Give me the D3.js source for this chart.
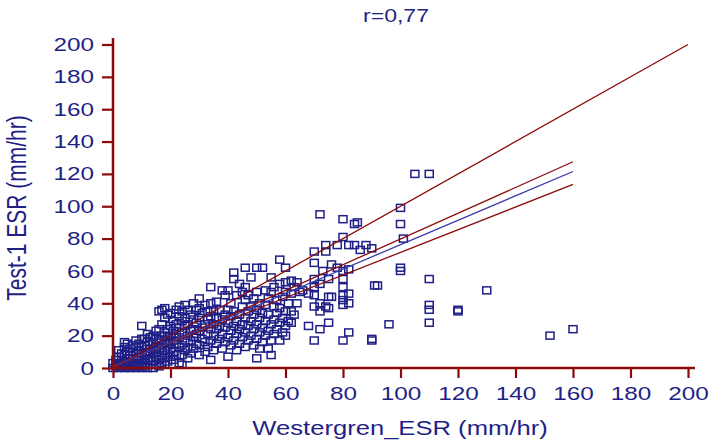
<!DOCTYPE html>
<html>
<head>
<meta charset="utf-8">
<script src="https://cdn.jsdelivr.net/npm/d3@7"></script>
<style>
  body { margin: 0; background: #fff; }
  svg { display: block; font-family: "Liberation Sans", Arial, sans-serif; }
</style>
</head>
<body>
<div id="chart"></div>
<script>
// Westergren_ESR vs Test-1 ESR (mm/hr)
const esrPairs = [
  [0,0],[0,3],[1,1],[1,5],[1,2],[2,0],[2,3],[2,7],[2,11],[3,1],[3,5],[3,9],[3,2],[4,0],[4,4],
  [4,8],[4,13],[4,16],[5,1],[5,6],[5,10],[5,3],[5,15],[6,0],[6,4],[6,8],[6,12],[6,2],[7,1],[7,6],
  [7,10],[7,14],[7,3],[8,0],[8,5],[8,9],[8,13],[8,17],[8,2],[9,3],[9,7],[9,11],[9,15],[9,1],
  [10,0],[10,5],[10,9],[10,13],[10,18],[10,26],[10,2],
  [11,3],[11,8],[11,14],[11,18],[11,1],[12,0],[12,5],[12,10],[12,16],[12,21],[13,2],[13,6],[13,12],
  [13,19],[13,9],[14,0],[14,4],[14,11],[14,15],[14,20],[15,2],[15,7],[15,13],[15,18],[15,23],
  [15,10],[16,1],[16,5],[16,12],[16,17],[16,24],[16,35],[17,3],[17,8],[17,14],[17,20],[17,27],
  [17,36],[18,6],[18,11],[18,17],[18,22],[18,31],[18,37],[18,2],[19,4],[19,9],[19,15],[19,24],
  [19,33],[19,19],[20,7],[20,12],[20,20],[20,26],[20,34],[20,16],
  [21,5],[21,10],[21,17],[21,23],[21,29],[22,8],[22,15],[22,21],[22,27],[22,36],[23,3],[23,13],
  [23,19],[23,25],[23,32],[23,38],[24,2],[24,8],[24,14],[24,22],[24,29],[24,35],[25,11],[25,17],
  [25,26],[25,31],[25,39],[26,6],[26,12],[26,20],[26,27],[26,36],[27,9],[27,17],[27,23],[27,33],
  [28,12],[28,19],[28,24],[28,30],[28,40],[29,15],[29,21],[29,28],[29,36],[30,8],[30,14],[30,23],
  [30,31],[30,37],[30,43],[31,18],[31,25],[31,34],[32,10],[32,16],[32,27],[32,39],[33,13],[33,21],
  [33,30],[33,35],[34,5],[34,17],[34,24],[34,32],[34,40],[34,50],
  [35,11],[35,20],[35,27],[35,35],[36,15],[36,24],[36,31],[36,41],[37,18],[37,26],[37,36],[38,12],
  [38,21],[38,30],[38,48],[39,16],[39,25],[39,33],[39,45],[40,7],[40,19],[40,28],[40,36],[40,48],
  [41,14],[41,23],[41,32],[41,40],[42,17],[42,26],[42,35],[42,55],[42,59],[43,11],[43,21],[43,29],
  [43,45],[44,15],[44,24],[44,33],[44,52],[45,19],[45,27],[45,38],[45,47],
  [46,13],[46,22],[46,31],[46,42],[46,50],[46,62],[47,17],[47,26],[47,35],[47,45],[48,20],[48,29],
  [48,38],[48,56],[49,14],[49,24],[49,33],[49,43],[50,6],[50,18],[50,27],[50,36],[50,47],[50,62],
  [51,12],[51,22],[51,31],[51,40],[52,16],[52,25],[52,34],[52,62],[53,20],[53,29],[53,39],[53,48],
  [54,12],[54,23],[54,33],[54,43],[55,8],[55,17],[55,27],[55,47],[55,56],
  [56,21],[56,30],[56,38],[56,50],[57,24],[57,34],[57,42],[58,17],[58,28],[58,37],[58,52],[58,67],
  [59,22],[59,31],[59,44],[60,20],[60,26],[60,35],[60,47],[60,53],[60,62],[61,29],[61,40],[62,28],
  [62,35],[62,46],[62,54],[63,33],[63,50],[64,40],[64,53],[65,47],[66,48],
  [68,26],[68,46],[70,17],[70,38],[70,45],[70,50],[70,55],[70,65],[70,72],[72,24],[72,35],[72,40],
  [72,52],[72,95],[73,60],[74,38],[74,72],[74,76],[75,28],[75,37],[75,44],[75,55],[76,44],[76,64],
  [78,62],[78,76],[80,17],[80,39],[80,42],[80,45],[80,50],[80,55],[80,60],[80,81],[80,92],[82,22],
  [82,40],[82,46],[82,61],[82,76],[84,76],[84,89],[85,90],[86,73],[88,76],[90,17],[90,18],[90,74],
  [91,51],[92,51],[96,27],[100,60],[100,62],[100,89],[100,99],[101,80],[105,120],[110,120],
  [110,28],[110,36],[110,39],[110,55],[120,35],[120,36],[130,48],[152,20],[160,24]
];

// reference lines: line of identity, regression line and its confidence limits
const identityLine = [[0, 0], [200, 200]];
const regressionLine = [[0, 0.8], [160, 121.5]];
const upperLimit = [[0, 0.2], [160, 127.5]];
const lowerLimit = [[0, 1.4], [160, 113.5]];

const xTicks = d3.range(0, 201, 20);
const yTicks = d3.range(0, 201, 20);

const navy = '#1f1f86';
const axisRed = '#8c0a0a';
const stretch = 1.28; // picture text is wider than tall

const width = 709, height = 442;

const svg = d3.select('#chart')
  .append('svg')
  .attr('width', width)
  .attr('height', height);

const x = d3.scaleLinear().domain([0, 200]).range([113, 688]);
const y = d3.scaleLinear().domain([0, 200]).range([368, 44.5]);

// points
svg.append('g')
  .selectAll('rect')
  .data(esrPairs)
  .enter()
  .append('rect')
  .attr('x', d => x(d[0]) - 4)
  .attr('y', d => y(d[1]) - 3.5)
  .attr('width', 8)
  .attr('height', 7)
  .attr('fill', 'none')
  .attr('stroke', navy)
  .attr('stroke-width', 1.5);

// lines
const line = d3.line().x(d => x(d[0])).y(d => y(d[1]));
[[identityLine, axisRed], [upperLimit, axisRed], [lowerLimit, axisRed], [regressionLine, '#3a3aa8']]
  .forEach(([pts, color]) => {
    svg.append('path')
      .attr('d', line(pts))
      .attr('fill', 'none')
      .attr('stroke', color)
      .attr('stroke-width', 1.3);
  });

// axes
const xAxis = svg.append('g')
  .attr('transform', `translate(0,${y(0)})`)
  .call(d3.axisBottom(x).tickValues(xTicks).tickSize(10).tickPadding(9).tickSizeOuter(0));

const yAxis = svg.append('g')
  .attr('transform', `translate(${x(0)},0)`)
  .call(d3.axisLeft(y).tickValues(yTicks).tickSize(11).tickPadding(8).tickSizeOuter(0));

[xAxis, yAxis].forEach(g => {
  g.select('.domain').attr('stroke', axisRed).attr('stroke-width', 2.5);
  g.selectAll('.tick line').attr('stroke', axisRed).attr('stroke-width', 2.2);
  g.selectAll('.tick text')
    .attr('fill', navy)
    .attr('font-size', 19)
    .attr('font-family', '"Liberation Sans", Arial, sans-serif');
});

xAxis.select('.domain').attr('d', `M${x(0)},0H695`);
xAxis.selectAll('.tick text').attr('transform', `scale(${stretch},1)`);
yAxis.select('.domain').attr('d', `M0,${y(0)}V38`);
yAxis.selectAll('.tick text')
  .attr('x', -19 / stretch)
  .attr('transform', `scale(${stretch},1)`);

// title
svg.append('text')
  .attr('transform', `translate(396,22) scale(${stretch},1)`)
  .attr('text-anchor', 'middle')
  .attr('font-size', 18)
  .attr('fill', navy)
  .text('r=0,77');

// axis titles
svg.append('text')
  .attr('transform', `translate(400,435) scale(${stretch},1)`)
  .attr('text-anchor', 'middle')
  .attr('font-size', 20)
  .attr('fill', navy)
  .text('Westergren_ESR (mm/hr)');

svg.append('text')
  .attr('transform', `translate(26,208) rotate(-90) scale(1,${stretch})`)
  .attr('text-anchor', 'middle')
  .attr('font-size', 21)
  .attr('fill', navy)
  .text('Test-1 ESR (mm/hr)');
</script>
</body>
</html>
